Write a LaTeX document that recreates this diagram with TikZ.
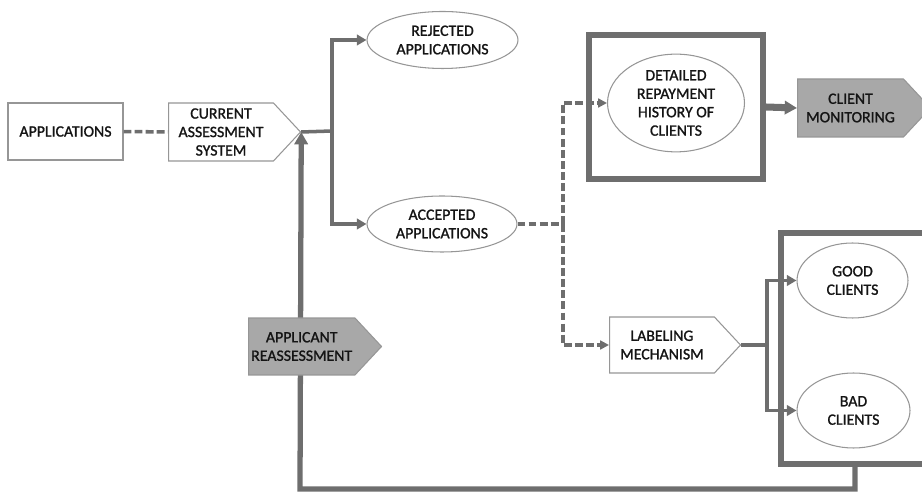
\documentclass[tikz,border=0pt]{standalone}
\usepackage{fontspec}
\setmainfont{Carlito}
\newfontfamily\diagfont{Carlito}[FakeBold=1.2]
\usepackage{xcolor}
\usetikzlibrary{shapes.geometric,shapes.symbols,arrows.meta}
\definecolor{lineGray}{RGB}{110,110,110}
\definecolor{edgeGray}{RGB}{150,150,150}
\definecolor{fillGray}{RGB}{168,168,168}
\definecolor{textDark}{RGB}{20,20,20}

\begin{document}
\begin{tikzpicture}[
    x=0.02cm, y=-0.02cm,
    every node/.style={font=\diagfont\fontsize{9}{10.5}\selectfont, text=textDark, align=center, inner sep=1pt},
    plainbox/.style={rectangle, draw=edgeGray, fill=white, line width=0.6pt},
    oval/.style={ellipse, draw=edgeGray, fill=white, line width=0.6pt},
    arrowbox/.style={signal, signal to=east, signal pointer angle=94, draw=edgeGray, fill=white, line width=0.6pt, anchor=west},
    greybox/.style={arrowbox, fill=fillGray},
    frame/.style={rectangle, draw=lineGray, line width=3pt},
    flow/.style={draw=lineGray, line width=2pt},
    tip/.style={-{Triangle[length=5.5pt,width=6pt]}},
    dashflow/.style={flow, dash pattern=on 4.5pt off 1.8pt},
    dashtip/.style={-{Triangle[length=5pt,width=5pt]}}
]
\useasboundingbox (0,0) rectangle (922,492);

% Input side (left)
\node[plainbox, minimum width=2.3cm, minimum height=1.14cm] (apps) at (65.5,131.5) {APPLICATIONS};
\node[arrowbox, minimum width=2.64cm, minimum height=1.16cm] (cas) at (168,132) {CURRENT\\ASSESSMENT\\SYSTEM};

% Decisions (middle)
\node[oval, minimum width=3.02cm, minimum height=1.14cm] (rej) at (442.5,40) {REJECTED\\APPLICATIONS};
\node[oval, minimum width=3.0cm, minimum height=1.12cm] (acc) at (442,224) {ACCEPTED\\APPLICATIONS};

% Repayment history frame (top right)
\node[frame, minimum width=3.48cm, minimum height=2.88cm] (histframe) at (676,107) {};
\node[oval, minimum width=2.74cm, minimum height=1.84cm] (hist) at (676,103) {DETAILED\\REPAYMENT\\HISTORY OF\\CLIENTS};
\node[greybox, minimum width=2.66cm, minimum height=1.16cm] (monitor) at (797,108) {CLIENT\\MONITORING\hspace{0.8em}};

% Labeling and client classes (bottom right)
\node[arrowbox, minimum width=2.62cm, minimum height=1.12cm] (label) at (609,345) {LABELING\\MECHANISM};
\node[frame, minimum width=2.96cm, minimum height=4.62cm] (classframe) at (855,348.5) {};
\node[oval, minimum width=2.22cm, minimum height=1.5cm] (good) at (852.5,280.5) {GOOD\\CLIENTS};
\node[oval, minimum width=2.26cm, minimum height=1.5cm] (bad) at (853.5,410.5) {BAD\\CLIENTS};

% Branch points
\coordinate (split1) at (332,131);
\coordinate (split2) at (563,224);
\coordinate (split3) at (767,345);
\coordinate (fbcorner) at (300,489);

% Main flow connections (solid arrows)
\draw[dashflow] (apps) -- (cas);
\draw[flow] (cas.east) -- (split1);
\draw[flow, tip] (split1) |- (rej.west);
\draw[flow, tip] (split1) |- (acc.west);
\draw[flow, line width=4pt, -{Triangle[length=7pt,width=7.5pt]}] (histframe.east) -- (monitor.west);

% Accepted to history and labeling (dashed arrows)
\draw[dashflow] (acc.east) -- (split2);
\draw[dashflow, dashtip] (split2) |- (hist.west);
\draw[dashflow, dashtip] (split2) |- (label.west);

% Labeling to classes
\draw[flow] (label.east) -- (split3);
\draw[flow, tip] (split3) |- (good.west);
\draw[flow, tip] (split3) |- (bad.west);

% Feedback loop
\draw[flow, line width=3pt, -{Triangle[length=7pt,width=7.5pt]}] (classframe.south) |- (fbcorner) -- (cas.east);
\node[greybox, minimum width=2.66cm, minimum height=1.14cm] (reassess) at (248,346.5) {APPLICANT\\REASSESSMENT};

\end{tikzpicture}
\end{document}
